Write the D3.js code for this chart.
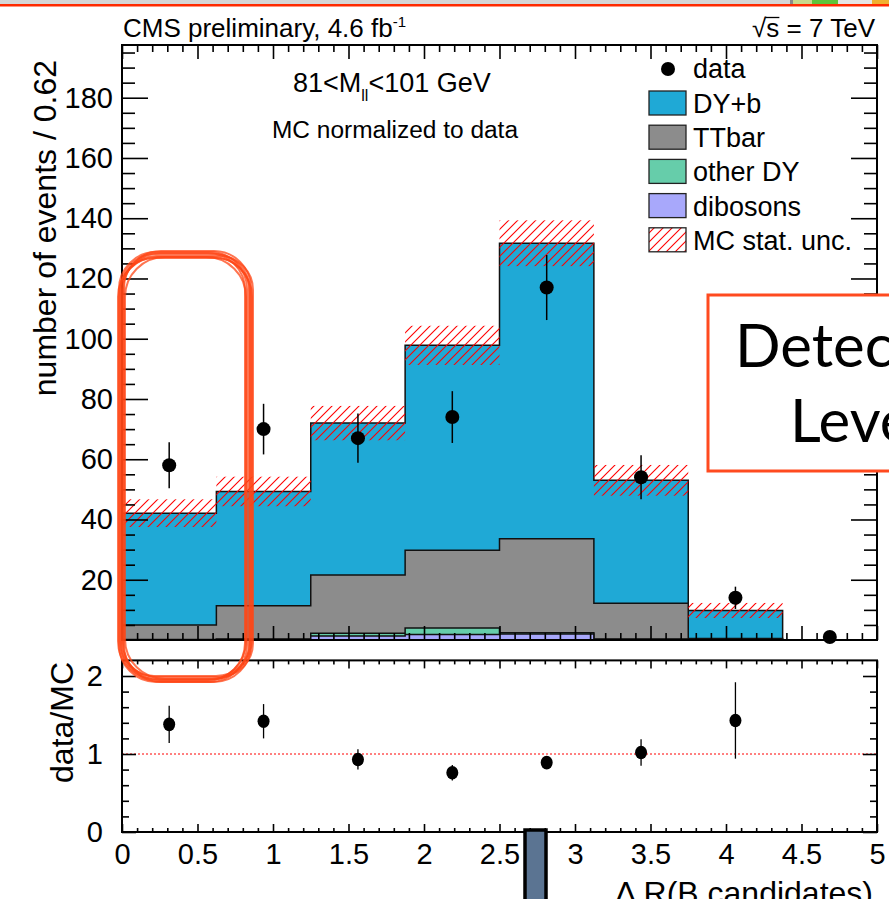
<!DOCTYPE html>
<html><head><meta charset="utf-8">
<script src="https://cdn.jsdelivr.net/npm/d3@7"></script>
<style>html,body{margin:0;padding:0;background:#fff;} svg{display:block;}</style>
</head><body>
<svg id="c" width="889" height="899"></svg>
<script>
// ---------------- data ----------------
const binEdges = [0, 0.625, 1.25, 1.875, 2.5, 3.125, 3.75, 4.375, 5];
const dyb      = [37.1, 37.9, 50.4, 68.0, 98.1, 40.8, 9.3, 0];
const ttbar    = [4.8, 11.1, 19.4, 25.8, 31.2, 11.9, 0.3, 0];
const otherDY  = [0.1, 0.1, 0.9, 2.2, 0.4, 0.1, 0.1, 0];
const dibosons = [0.1, 0.2, 1.3, 1.8, 2.0, 0.2, 0.1, 0];
const mcUnc    = [4.6, 4.9, 5.7, 6.5, 7.6, 5.1, 2.5, 0];
const dataVals = [58, 70, 67, 74, 117, 54, 14, 1];
const dataErr  = [7.6, 8.4, 8.2, 8.6, 10.8, 7.3, 3.7, 1.0];
const ratioVals = [1.38, 1.42, 0.93, 0.76, 0.89, 1.02, 1.43];
const ratioErr  = [0.24, 0.22, 0.13, 0.10, 0.05, 0.17, 0.49];
const xTickVals = [0, 0.5, 1, 1.5, 2, 2.5, 3, 3.5, 4, 4.5, 5];
const xTickLabels = ["0", "0.5", "1", "1.5", "2", "2.5", "3", "3.5", "4", "4.5", "5"];
const yTopTicks = [20, 40, 60, 80, 100, 120, 140, 160, 180];
const yRatioTicks = [0, 1, 2];
const legendLabels = ["data", "DY+b", "TTbar", "other DY", "dibosons", "MC stat. unc."];
const stackColors = {dyb: "#1fa9d6", ttbar: "#8c8c8c", otherDY: "#66cdaa", dibosons: "#a8a8fb"};

// ---------------- setup ----------------
const svg = d3.select("#c");
svg.append("rect").attr("width", 889).attr("height", 899).attr("fill", "#fff");
const FONT = "'Liberation Sans', Arial, Helvetica, sans-serif";
const x = d3.scaleLinear().domain([0, 5]).range([122, 877]);
const yT = d3.scaleLinear().domain([0, 197.5]).range([640, 45]);
const yR = d3.scaleLinear().domain([0, 2.2]).range([832, 660.4]);
const n = dyb.length;
const centers = binEdges.slice(0, n).map((e, i) => (e + binEdges[i + 1]) / 2);

const defs = svg.append("defs");
const pat = defs.append("pattern").attr("id", "hatch").attr("patternUnits", "userSpaceOnUse")
  .attr("width", 9).attr("height", 9);
pat.append("path").attr("d", "M-2,2 L2,-2 M0,9 L9,0 M7,11 L11,7")
  .attr("stroke", "#ff0000").attr("stroke-width", 1.1).attr("fill", "none");

// ---------------- stack ----------------
const cumDib = dibosons.slice();
const cumOther = dibosons.map((d, i) => d + otherDY[i]);
const cumTT = cumOther.map((d, i) => d + ttbar[i]);
const cumAll = cumTT.map((d, i) => d + dyb[i]);

function stepPath(vals) {
  let p = `M${x(binEdges[0])},${yT(0)}`;
  vals.forEach((v, i) => { p += `L${x(binEdges[i])},${yT(v)}L${x(binEdges[i + 1])},${yT(v)}`; });
  p += `L${x(binEdges[n])},${yT(0)}Z`;
  return p;
}
const layers = [[cumAll, stackColors.dyb], [cumTT, stackColors.ttbar], [cumOther, stackColors.otherDY], [cumDib, stackColors.dibosons]];
layers.forEach(([vals, col]) => {
  svg.append("path").attr("d", stepPath(vals)).attr("fill", col)
    .attr("stroke", "#111").attr("stroke-width", 1.5).attr("stroke-linejoin", "miter");
});

// MC stat unc band
svg.append("g").selectAll("rect").data(d3.range(n).filter(i => mcUnc[i] > 0)).join("rect")
  .attr("x", i => x(binEdges[i])).attr("width", i => x(binEdges[i + 1]) - x(binEdges[i]))
  .attr("y", i => yT(cumAll[i] + mcUnc[i])).attr("height", i => yT(cumAll[i] - mcUnc[i]) - yT(cumAll[i] + mcUnc[i]))
  .attr("fill", "url(#hatch)");

// data
const gD = svg.append("g");
gD.selectAll("line").data(d3.range(n)).join("line")
  .attr("x1", i => x(centers[i])).attr("x2", i => x(centers[i]))
  .attr("y1", i => yT(Math.max(0, dataVals[i] - dataErr[i]))).attr("y2", i => yT(dataVals[i] + dataErr[i]))
  .attr("stroke", "#000").attr("stroke-width", 1.5);
gD.selectAll("circle").data(d3.range(n)).join("circle")
  .attr("cx", i => x(centers[i])).attr("cy", i => yT(dataVals[i])).attr("r", 7).attr("fill", "#000");

// ---------------- ratio ----------------
svg.append("line").attr("x1", x(0)).attr("x2", x(5)).attr("y1", yR(1)).attr("y2", yR(1))
  .attr("stroke", "#ff0000").attr("stroke-width", 1).attr("stroke-dasharray", "2,2");
const gR = svg.append("g");
gR.selectAll("line").data(d3.range(ratioVals.length)).join("line")
  .attr("x1", i => x(centers[i])).attr("x2", i => x(centers[i]))
  .attr("y1", i => yR(ratioVals[i] - ratioErr[i])).attr("y2", i => yR(ratioVals[i] + ratioErr[i]))
  .attr("stroke", "#000").attr("stroke-width", 1.3);
gR.selectAll("ellipse").data(d3.range(ratioVals.length)).join("ellipse")
  .attr("cx", i => x(centers[i])).attr("cy", i => yR(ratioVals[i])).attr("rx", 6).attr("ry", 6.8).attr("fill", "#000");

// ---------------- axes ----------------
function styleAxis(g, fs) {
  g.select(".domain").remove();
  g.selectAll(".tick line").attr("stroke", "#000").attr("stroke-width", 1.6);
  g.attr("font-family", FONT).attr("font-size", fs);
  g.selectAll("text").attr("fill", "#000");
}
const minorY = d3.range(5, 197.5, 5).filter(v => v % 20 !== 0);
const minorX = d3.range(0, 50.01, 1).map(v => v / 10).filter(v => Math.abs(v * 2 - Math.round(v * 2)) > 1e-6);
const minorR = [0.2, 0.4, 0.6, 0.8, 1.2, 1.4, 1.6, 1.8];

// top panel
svg.append("g").attr("transform", "translate(122,0)")
  .call(d3.axisLeft(yT).tickValues(yTopTicks).tickSize(-26).tickPadding(9).tickFormat(d => d)).call(g => styleAxis(g, 29));
svg.append("g").attr("transform", "translate(122,0)")
  .call(d3.axisLeft(yT).tickValues(minorY).tickSize(-13).tickFormat("")).call(g => styleAxis(g, 10));
svg.append("g").attr("transform", "translate(877,0)")
  .call(d3.axisRight(yT).tickValues(yTopTicks).tickSize(-26).tickFormat("")).call(g => styleAxis(g, 10));
svg.append("g").attr("transform", "translate(877,0)")
  .call(d3.axisRight(yT).tickValues(minorY).tickSize(-13).tickFormat("")).call(g => styleAxis(g, 10));
svg.append("g").attr("transform", "translate(0,640)")
  .call(d3.axisBottom(x).tickValues(xTickVals).tickSize(-14).tickFormat("")).call(g => styleAxis(g, 10));
svg.append("g").attr("transform", "translate(0,640)")
  .call(d3.axisBottom(x).tickValues(minorX).tickSize(-7).tickFormat("")).call(g => styleAxis(g, 10));
svg.append("g").attr("transform", "translate(0,45)")
  .call(d3.axisTop(x).tickValues(xTickVals).tickSize(-14).tickFormat("")).call(g => styleAxis(g, 10));
svg.append("g").attr("transform", "translate(0,45)")
  .call(d3.axisTop(x).tickValues(minorX).tickSize(-7).tickFormat("")).call(g => styleAxis(g, 10));
svg.append("rect").attr("x", 122).attr("y", 45).attr("width", 755).attr("height", 595)
  .attr("fill", "none").attr("stroke", "#000").attr("stroke-width", 2);

// ratio panel
svg.append("g").attr("transform", "translate(122,0)")
  .call(d3.axisLeft(yR).tickValues(yRatioTicks).tickSize(-14).tickPadding(19).tickFormat(d => d)).call(g => styleAxis(g, 29));
svg.append("g").attr("transform", "translate(122,0)")
  .call(d3.axisLeft(yR).tickValues(minorR).tickSize(-7).tickFormat("")).call(g => styleAxis(g, 10));
svg.append("g").attr("transform", "translate(877,0)")
  .call(d3.axisRight(yR).tickValues(yRatioTicks).tickSize(-14).tickFormat("")).call(g => styleAxis(g, 10));
svg.append("g").attr("transform", "translate(877,0)")
  .call(d3.axisRight(yR).tickValues(minorR).tickSize(-7).tickFormat("")).call(g => styleAxis(g, 10));
svg.append("g").attr("transform", "translate(0,832)")
  .call(d3.axisBottom(x).tickValues(xTickVals).tickSize(-8).tickPadding(11).tickFormat((d, i) => xTickLabels[i])).call(g => styleAxis(g, 29));
svg.append("g").attr("transform", "translate(0,832)")
  .call(d3.axisBottom(x).tickValues(minorX).tickSize(-4).tickFormat("")).call(g => styleAxis(g, 10));
svg.append("g").attr("transform", "translate(0,660.4)")
  .call(d3.axisTop(x).tickValues(xTickVals).tickSize(-8).tickFormat("")).call(g => styleAxis(g, 10));
svg.append("g").attr("transform", "translate(0,660.4)")
  .call(d3.axisTop(x).tickValues(minorX).tickSize(-4).tickFormat("")).call(g => styleAxis(g, 10));
svg.append("rect").attr("x", 122).attr("y", yR(2.2)).attr("width", 755).attr("height", yR(0) - yR(2.2))
  .attr("fill", "none").attr("stroke", "#000").attr("stroke-width", 2);

// ---------------- titles ----------------
svg.append("text").attr("transform", "translate(56,60) rotate(-90)").attr("text-anchor", "end")
  .attr("font-family", FONT).attr("font-size", 32).text("number of events / 0.62");
svg.append("text").attr("transform", "translate(73,662) rotate(-90)").attr("text-anchor", "end")
  .attr("font-family", FONT).attr("font-size", 32).text("data/MC");
svg.append("text").attr("x", 873).attr("y", 904).attr("text-anchor", "end")
  .attr("font-family", FONT).attr("font-size", 32).text("\u0394 R(B candidates)");

const cms = svg.append("text").attr("x", 123).attr("y", 37).attr("font-family", FONT).attr("font-size", 26);
cms.append("tspan").text("CMS preliminary, 4.6 fb");
cms.append("tspan").attr("font-size", 15).attr("dy", -10).text("-1");

const sq = svg.append("text").attr("x", 875).attr("y", 37).attr("text-anchor", "end")
  .attr("font-family", FONT).attr("font-size", 26).text("\u221As = 7 TeV");
try {
  const e1 = sq.node().getExtentOfChar(1);
  svg.append("line").attr("x1", e1.x - 1).attr("x2", e1.x + e1.width).attr("y1", 37 - 19.5).attr("y2", 37 - 19.5)
    .attr("stroke", "#000").attr("stroke-width", 1.3);
} catch (e) {}

const mll = svg.append("text").attr("x", 293).attr("y", 92).attr("font-family", FONT).attr("font-size", 27);
mll.append("tspan").text("81<M");
mll.append("tspan").attr("font-size", 16).attr("dy", 9).text("ll");
mll.append("tspan").attr("dy", -9).text("<101 GeV");
svg.append("text").attr("x", 272).attr("y", 138).attr("font-family", FONT).attr("font-size", 23)
  .attr("textLength", 246).attr("lengthAdjust", "spacingAndGlyphs").text("MC normalized to data");

// ---------------- legend ----------------
const leg = svg.append("g").attr("font-family", FONT).attr("font-size", 27);
leg.append("circle").attr("cx", 668).attr("cy", 69).attr("r", 7).attr("fill", "#000");
leg.append("text").attr("x", 693).attr("y", 78).text(legendLabels[0]);
const legFills = [stackColors.dyb, stackColors.ttbar, stackColors.otherDY, stackColors.dibosons, "url(#hatch)"];
legFills.forEach((f, k) => {
  const top = 91 + k * 34.2;
  if (k === 4) leg.append("rect").attr("x", 649).attr("y", top).attr("width", 37).attr("height", 24).attr("fill", "#fff");
  leg.append("rect").attr("x", 649).attr("y", top).attr("width", 37).attr("height", 24)
    .attr("fill", f).attr("stroke", "#222").attr("stroke-width", 1.3);
  leg.append("text").attr("x", 693).attr("y", top + 22).text(legendLabels[k + 1]);
});

// ---------------- annotations ----------------
svg.append("rect").attr("x", 0).attr("y", 0).attr("width", 889).attr("height", 4).attr("fill", "#d6d6d6");
svg.append("rect").attr("x", 0).attr("y", 4).attr("width", 889).attr("height", 2.5).attr("fill", "#ff2a00");
[[790, 3, "#8a8a8a"], [793, 19, "#c9d98c"], [812, 26, "#5ec43a"], [838, 34, "#e6e6e6"], [872, 17, "#f0b030"]]
  .forEach(([x0, w, c]) => svg.append("rect").attr("x", x0).attr("y", 0).attr("width", w).attr("height", 4).attr("fill", c));

function roundedRect(x0, y0, x1, y1, r) {
  const p = d3.path();
  p.moveTo(x0 + r, y0); p.lineTo(x1 - r, y0); p.arcTo(x1, y0, x1, y0 + r, r);
  p.lineTo(x1, y1 - r); p.arcTo(x1, y1, x1 - r, y1, r);
  p.lineTo(x0 + r, y1); p.arcTo(x0, y1, x0, y1 - r, r);
  p.lineTo(x0, y0 + r); p.arcTo(x0, y0, x0 + r, y0, r); p.closePath();
  return p.toString();
}
const loopOffsets = [[0, 0, 0, 0], [3, -3, 2, 3], [-3, 3, -3, 2], [1, 2, 4, -2], [-2, -2, -2, 3], [4, 3, 3, 0], [-1, 4, 1, -3], [2, -1, -4, 1]];
loopOffsets.forEach(([a, b, c, d], k) => {
  svg.append("path").attr("d", roundedRect(121 + a, 254 + b, 249 + c, 679 + d, 34 + (k % 3) * 3))
    .attr("fill", "none").attr("stroke", "#ff4515").attr("stroke-width", 2).attr("stroke-opacity", 0.75);
});

svg.append("rect").attr("x", 708).attr("y", 295).attr("width", 300).attr("height", 176)
  .attr("fill", "#fff").attr("stroke", "#ff4a1f").attr("stroke-width", 3);
svg.append("text").attr("x", 735).attr("y", 367).attr("font-family", "Lato, 'Open Sans', sans-serif")
  .attr("font-size", 60).text("Detector");
svg.append("text").attr("x", 790).attr("y", 442).attr("font-family", "Lato, 'Open Sans', sans-serif")
  .attr("font-size", 60).text("Level");

svg.append("rect").attr("x", 525).attr("y", 830).attr("width", 21).attr("height", 80)
  .attr("fill", "#5b7492").attr("stroke", "#000").attr("stroke-width", 3.5);
</script>
</body></html>
